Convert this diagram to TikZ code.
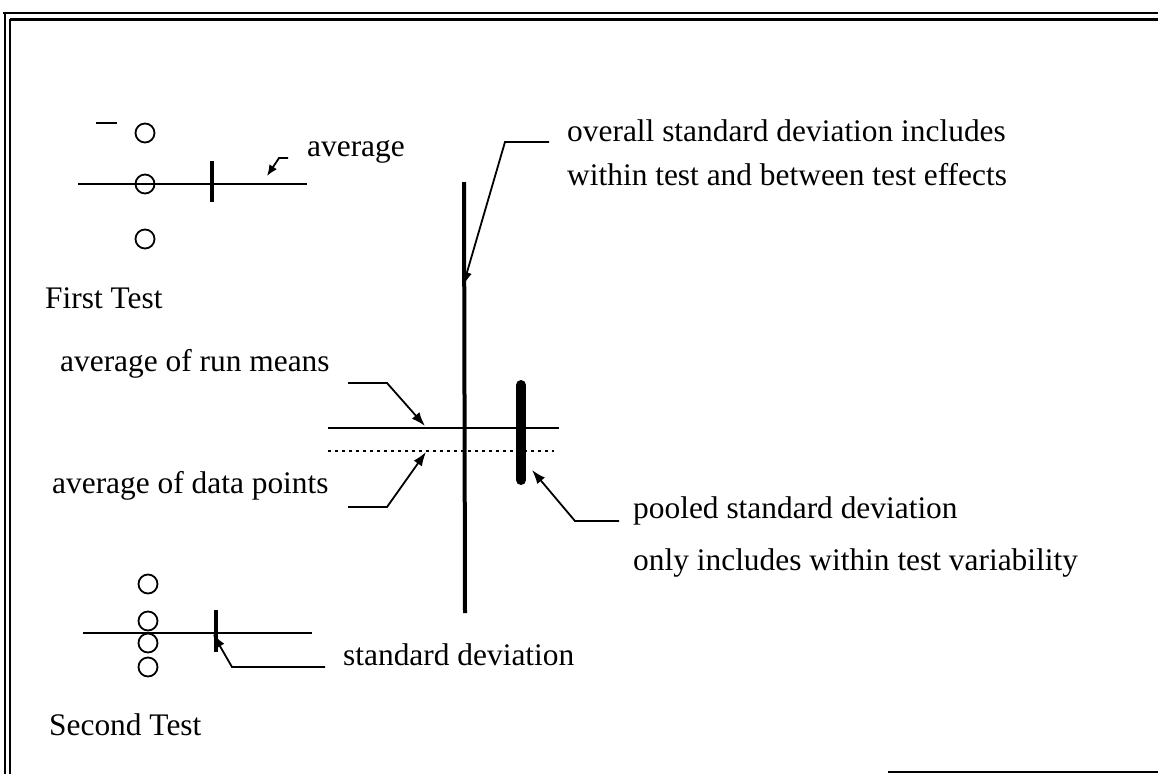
\documentclass[tikz,border=0pt]{standalone}
\usepackage{fontspec}
\setmainfont{Liberation Serif}
\usetikzlibrary{arrows.meta}

\begin{document}
\begin{tikzpicture}[x=1pt, y=-1pt]
    % Define styles
    \tikzstyle{label_text} = [anchor=base west, inner sep=0pt, font=\fontsize{31.4}{37}\selectfont]
    \tikzstyle{data_point} = [circle, draw, line width=1.8pt, minimum size=19pt, inner sep=0pt]
    \tikzstyle{rule} = [draw, line width=1.8pt]
    \tikzstyle{sd_bar} = [draw, line width=4pt]
    \tikzstyle{pooled_bar} = [draw, line width=10pt, line cap=round]
    \tikzstyle{line} = [draw, line width=1.8pt, -{Latex[length=14pt, width=10pt]}]
    \tikzstyle{small_line} = [draw, line width=1.8pt, -{Latex[length=11pt, width=9pt]}]

    \useasboundingbox (0,0) rectangle (1158,774);

    % Frame
    \draw [line width=2pt] (3,13) -- (1158,13);
    \draw [line width=3pt] (10,19) -- (1158,19);
    \draw [line width=2pt] (5,13) -- (5,774);
    \draw [line width=2.5pt] (10,19) -- (10,774);
    \draw [line width=2pt] (888,772) -- (1158,772);

    % First test
    \node [data_point] (first_pt_top) at (145,133) {};
    \node [data_point] (first_pt_mid) at (145,184) {};
    \node [data_point] (first_pt_bot) at (145,239) {};
    \coordinate (first_bar_left) at (96,123);
    \coordinate (first_bar_right) at (117,123);
    \coordinate (first_axis_left) at (78,184);
    \coordinate (first_axis_right) at (307,184);
    \coordinate (first_sd_top) at (212,161);
    \coordinate (first_sd_bot) at (212,202);
    \node [label_text] (first_label) at (45,308) {First Test};
    \node [label_text] (average_label) at (307,156) {average};
    \coordinate (average_start) at (288,158);
    \coordinate (average_bend) at (279,158);
    \coordinate (average_tip) at (267,176);

    % Second test
    \node [data_point] (second_pt_a) at (148,584) {};
    \node [data_point] (second_pt_b) at (148,621) {};
    \node [data_point] (second_pt_c) at (148,643) {};
    \node [data_point] (second_pt_d) at (148,667) {};
    \coordinate (second_axis_left) at (83,633);
    \coordinate (second_axis_right) at (312,633);
    \coordinate (second_sd_top) at (216,610);
    \coordinate (second_sd_bot) at (216,652);
    \node [label_text] (second_label) at (49,735) {Second Test};
    \node [label_text] (sd_label) at (343,665) {standard deviation};
    \coordinate (sd_start) at (325,667);
    \coordinate (sd_bend) at (232,667);
    \coordinate (sd_tip) at (213,634);

    % Overall and pooled
    \coordinate (run_mean_left) at (328,428);
    \coordinate (run_mean_right) at (559,428);
    \coordinate (data_mean_left) at (328,451);
    \coordinate (data_mean_right) at (554,451);
    \coordinate (overall_top) at (464,182);
    \coordinate (overall_bot) at (465,613);
    \coordinate (pooled_top) at (521,385);
    \coordinate (pooled_bot) at (521,480);

    \node [label_text] (run_mean_label) at (60,371) {average of run means};
    \coordinate (run_mean_start) at (348,383);
    \coordinate (run_mean_bend) at (387,383);
    \coordinate (run_mean_tip) at (425,426);

    \node [label_text] (data_mean_label) at (52,493) {average of data points};
    \coordinate (data_mean_start) at (348,507);
    \coordinate (data_mean_bend) at (387,507);
    \coordinate (data_mean_tip) at (426,452);

    \node [label_text] (overall_label) at (567,141) {overall standard deviation includes};
    \node [label_text] (overall_label_two) at (567,185) {within test and between test effects};
    \coordinate (overall_start) at (549,142);
    \coordinate (overall_bend) at (505,142);
    \coordinate (overall_tip) at (463,286);

    \node [label_text] (pooled_label) at (633,518) {pooled standard deviation};
    \node [label_text] (pooled_label_two) at (633,570) {only includes within test variability};
    \coordinate (pooled_start) at (619,521);
    \coordinate (pooled_bend) at (575,521);
    \coordinate (pooled_tip) at (532,470);

    % Lines
    \path [rule] (first_bar_left) -- (first_bar_right);
    \path [rule] (first_axis_left) -- (first_axis_right);
    \path [sd_bar] (first_sd_top) -- (first_sd_bot);
    \path [small_line] (average_start) -- (average_bend) -- (average_tip);

    \path [rule] (second_axis_left) -- (second_axis_right);
    \path [sd_bar] (second_sd_top) -- (second_sd_bot);
    \path [line] (sd_start) -- (sd_bend) -- (sd_tip);

    \path [rule] (run_mean_left) -- (run_mean_right);
    \path [rule, dash pattern=on 2.5pt off 4.5pt] (data_mean_left) -- (data_mean_right);
    \path [sd_bar] (overall_top) -- (overall_bot);
    \path [pooled_bar] (pooled_top) -- (pooled_bot);

    \path [line] (run_mean_start) -- (run_mean_bend) -- (run_mean_tip);
    \path [line] (data_mean_start) -- (data_mean_bend) -- (data_mean_tip);
    \path [line] (overall_start) -- (overall_bend) -- (overall_tip);
    \path [line] (pooled_start) -- (pooled_bend) -- (pooled_tip);
\end{tikzpicture}
\end{document}
